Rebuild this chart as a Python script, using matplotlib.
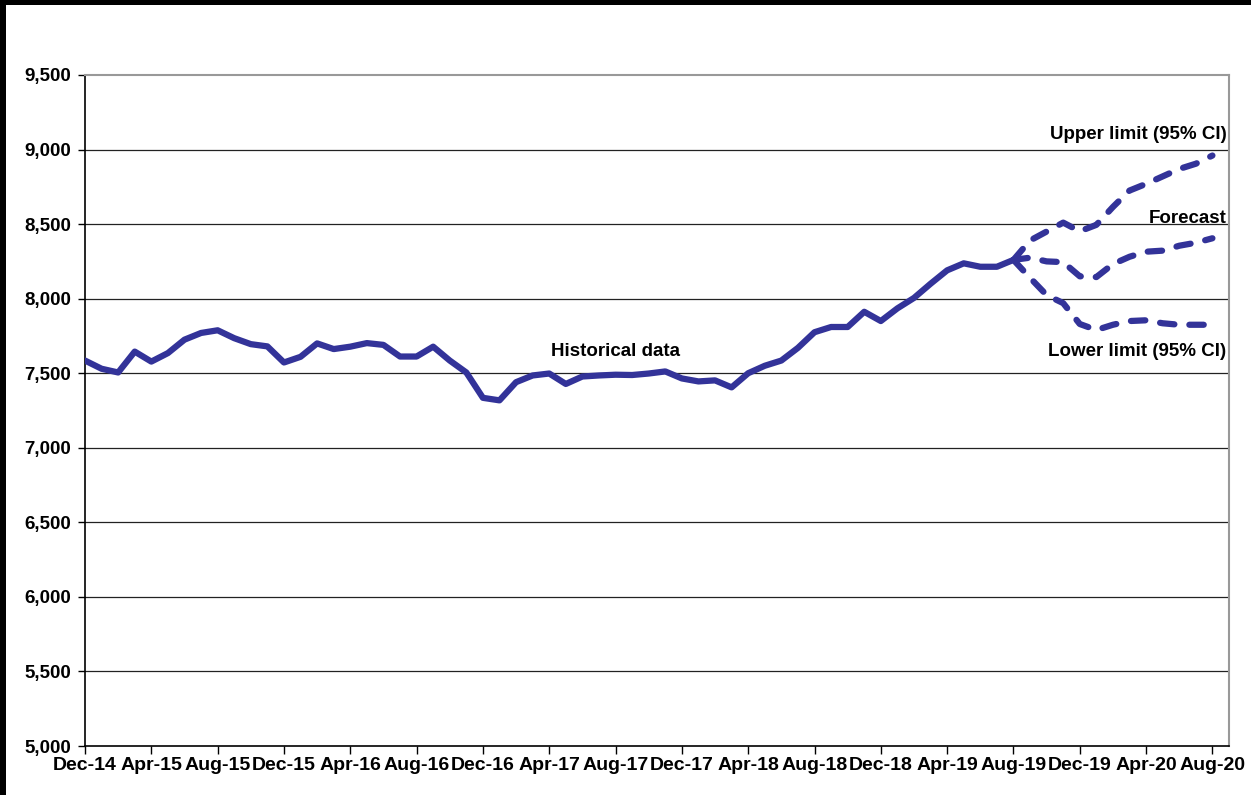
import matplotlib
matplotlib.use('Agg')
import matplotlib.pyplot as plt
from matplotlib.patches import Rectangle
from matplotlib.ticker import FuncFormatter

plt.rcParams['font.family'] = ['Liberation Sans', 'DejaVu Sans']
plt.rcParams['font.weight'] = 'bold'

# monthly values, Dec-14 = month 0
historical = [7585, 7530, 7505, 7645, 7578, 7635, 7725, 7770, 7788, 7735,
              7695, 7680, 7572, 7610, 7700, 7662, 7678, 7702, 7690, 7612,
              7612, 7678, 7585, 7505, 7335, 7318, 7440, 7485, 7498, 7428,
              7478, 7485, 7490, 7488, 7498, 7512, 7465, 7445, 7452, 7405,
              7500, 7550, 7585, 7670, 7775, 7810, 7810, 7912, 7850, 7935,
              8005, 8100, 8190, 8237, 8214, 8214, 8260]
forecast = [8260, 8275, 8250, 8245, 8150, 8145, 8232, 8281, 8315, 8322, 8355, 8375, 8405]
upper = [8260, 8390, 8450, 8510, 8452, 8495, 8615, 8725, 8770, 8820, 8870, 8905, 8960]
lower = [8260, 8140, 8024, 7970, 7830, 7790, 7825, 7850, 7855, 7835, 7825, 7825, 7825]

tick_labels = ['Dec-14', 'Apr-15', 'Aug-15', 'Dec-15', 'Apr-16', 'Aug-16',
               'Dec-16', 'Apr-17', 'Aug-17', 'Dec-17', 'Apr-18', 'Aug-18',
               'Dec-18', 'Apr-19', 'Aug-19', 'Dec-19', 'Apr-20', 'Aug-20']

hist_x = list(range(len(historical)))
fc_start = len(historical) - 1
fc_x = list(range(fc_start, fc_start + len(forecast)))

color = '#333399'

fig = plt.figure(figsize=(12.51, 7.95), dpi=100)
fig.patch.set_facecolor('white')
ax = fig.add_axes([85 / 1251, 1 - 746 / 795, (1229 - 85) / 1251, (746 - 75) / 795])

for y in range(5500, 9500, 500):
    ax.axhline(y, color='#222222', lw=0.9, zorder=1)

ax.plot(hist_x, historical, color=color, lw=4.5, solid_capstyle='round',
        solid_joinstyle='round', zorder=3)
for series in (upper, forecast, lower):
    ax.plot(fc_x, series, color=color, lw=4.5, dashes=(2.3, 2.4),
            dash_capstyle='round', zorder=3)

ax.set_xlim(0, 69)
ax.set_ylim(5000, 9500)
ax.set_yticks(range(5000, 10000, 500))
ax.yaxis.set_major_formatter(FuncFormatter(lambda v, p: f'{int(v):,}'))
ax.set_xticks(range(0, 4 * len(tick_labels), 4))
ax.set_xticklabels(tick_labels)

ax.tick_params(axis='y', labelsize=13.5, length=5, width=1, pad=5)
ax.tick_params(axis='x', labelsize=14, length=6, width=1, pad=2)

for s in ('left', 'bottom'):
    ax.spines[s].set_color('black')
    ax.spines[s].set_linewidth(1.2)
for s in ('top', 'right'):
    ax.spines[s].set_color('#999999')
    ax.spines[s].set_linewidth(1.5)

ax.text(32.0, 7644, 'Historical data', fontsize=13.5, fontweight='bold',
        ha='center', va='center')
ax.text(68.85, 9102, 'Upper limit (95% CI)', fontsize=13.5, fontweight='bold',
        ha='right', va='center')
ax.text(68.85, 8539, 'Forecast', fontsize=13.5, fontweight='bold',
        ha='right', va='center')
ax.text(68.85, 7644, 'Lower limit (95% CI)', fontsize=13.5, fontweight='bold',
        ha='right', va='center')

# black screenshot border on top and left
fig.patches.append(Rectangle((0, 1 - 5 / 795), 1, 5 / 795, transform=fig.transFigure,
                             facecolor='black', edgecolor='none', zorder=10))
fig.patches.append(Rectangle((0, 0), 6 / 1251, 1, transform=fig.transFigure,
                             facecolor='black', edgecolor='none', zorder=10))

fig.savefig('out.png', dpi=100, facecolor='white')
